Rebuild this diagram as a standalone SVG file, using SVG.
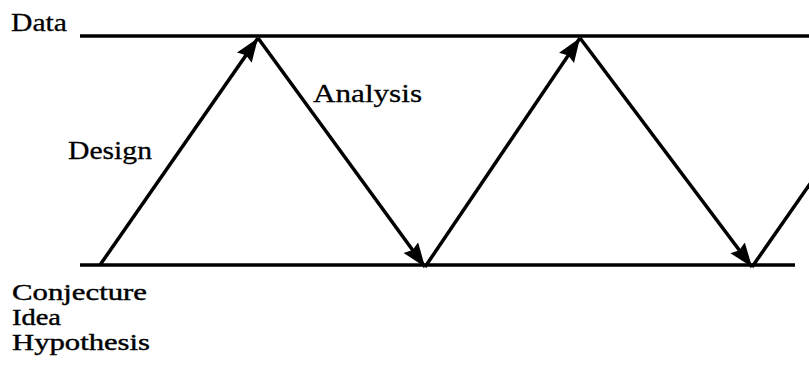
<svg xmlns="http://www.w3.org/2000/svg" width="809" height="367" viewBox="0 0 809 367">
<style>
.t{font-family:"Liberation Serif","Times New Roman",Times,serif;font-size:26px;fill:#000;stroke:#000;stroke-width:0.3}
.s{font-size:22.5px;stroke-width:0.4}
.ax{stroke:#000;stroke-width:3.5;fill:none}
.c{stroke:#000;stroke-width:3.5;fill:none}
</style>
<defs>
<marker id="ah" markerUnits="userSpaceOnUse" markerWidth="26" markerHeight="20" refX="24" refY="9" orient="auto">
<path d="M0,0 L24,9 L0,18 L3,9 Z" fill="#000"/>
</marker>
</defs>
<rect width="809" height="367" fill="#fff"/>
<g id="data-axis">
<line class="ax" x1="80" y1="36" x2="809" y2="36"/>
<text class="t" x="11" y="31" textLength="56" lengthAdjust="spacingAndGlyphs">Data</text>
</g>
<g id="conjecture-axis">
<line class="ax" x1="80" y1="265" x2="795" y2="265"/>
<text class="t s" x="12" y="300" textLength="135" lengthAdjust="spacingAndGlyphs">Conjecture</text>
<text class="t s" x="12" y="325" textLength="49" lengthAdjust="spacingAndGlyphs">Idea</text>
<text class="t s" x="12" y="350" textLength="138" lengthAdjust="spacingAndGlyphs">Hypothesis</text>
</g>
<g id="labels">
<text class="t" x="68" y="159" textLength="84" lengthAdjust="spacingAndGlyphs">Design</text>
<text class="t" x="313" y="102" textLength="109" lengthAdjust="spacingAndGlyphs">Analysis</text>
</g>
<g id="connectors">
<line class="c" x1="100" y1="265" x2="258" y2="38" marker-end="url(#ah)"/>
<line class="c" x1="258" y1="38" x2="425" y2="267" marker-end="url(#ah)"/>
<line class="c" x1="425" y1="267" x2="580" y2="38" marker-end="url(#ah)"/>
<line class="c" x1="580" y1="38" x2="752" y2="267" marker-end="url(#ah)"/>
<line class="c" x1="752" y1="267" x2="812" y2="181"/>
</g>
</svg>
